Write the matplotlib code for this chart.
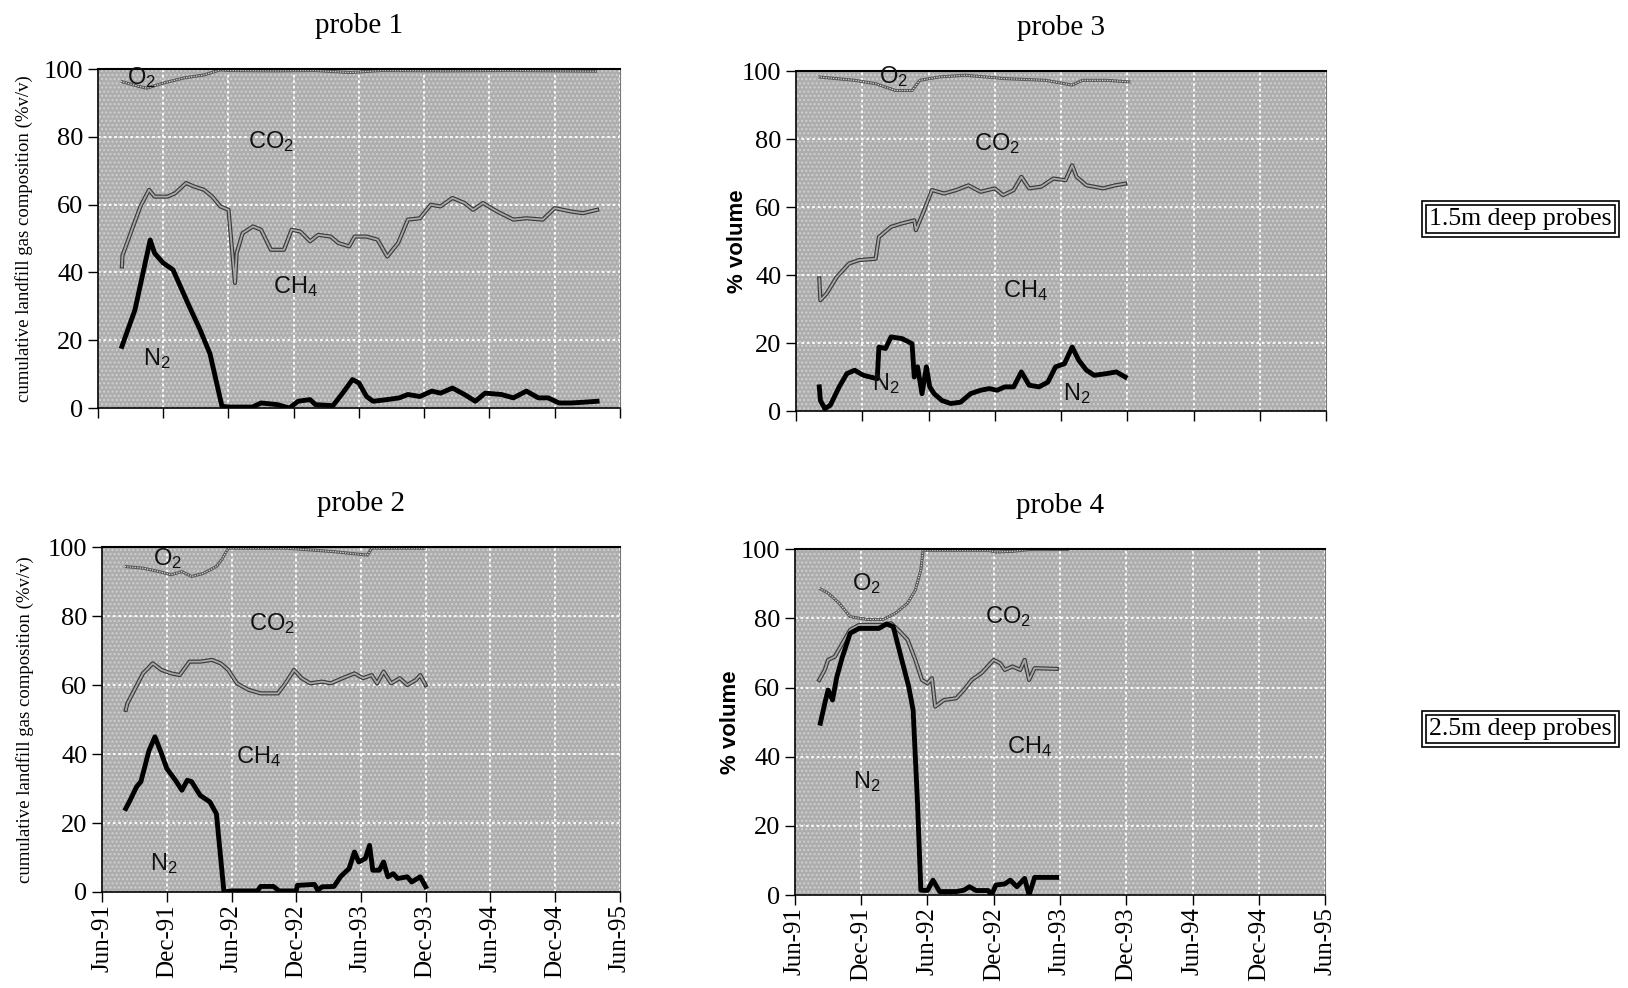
import matplotlib
matplotlib.use('Agg')
import matplotlib.pyplot as plt

plt.rcParams['mathtext.fontset'] = 'custom'
plt.rcParams['mathtext.rm'] = 'Liberation Sans'
plt.rcParams['mathtext.it'] = 'Liberation Sans'

SERIF = 'Liberation Serif'
SANS = 'Liberation Sans'

# x = months after Jun-91
tick_labels = ['Jun-91', 'Dec-91', 'Jun-92', 'Dec-92', 'Jun-93', 'Dec-93', 'Jun-94', 'Dec-94', 'Jun-95']

# ---- probe 1 (1.5m) ----
p1_n2_x = [2.2, 3.4, 4.8, 5.2, 6.0, 6.9, 7.7, 8.25, 9.4, 10.3, 11.4, 12.0, 14.2, 15.0, 16.5, 17.6, 18.4, 19.5, 20.0,
           21.6, 22.5, 23.4, 24.0, 24.7, 25.3, 26.6, 27.7, 28.5, 29.6, 30.7, 31.5, 32.6, 33.7, 34.7, 35.6, 37.1,
           38.2, 39.4, 40.5, 41.4, 42.4, 43.5, 44.6, 45.9]
p1_n2_y = [18.2, 29, 49.6, 45.7, 42.8, 40.8, 35, 31, 23, 16, 0.5, 0.3, 0.3, 1.5, 1, 0, 2, 2.5, 1,
           0.7, 4.4, 8.4, 7.4, 3.4, 2, 2.5, 3, 4, 3.4, 5, 4.4, 5.9, 4, 2, 4.4, 4,
           3, 5, 3, 3, 1.5, 1.5, 1.7, 2]
p1_ch4_x = [2.2, 2.25, 3.0, 3.9, 4.7, 5.2, 6.4, 7.1, 8.1, 8.8, 9.75, 10.5, 11.25, 12.0, 12.6, 12.75, 13.3, 14.25,
            15.0, 15.9, 17.1, 17.8, 18.6, 19.5, 20.25, 21.4, 22.1, 23.1, 23.6, 24.7, 25.7, 26.6, 27.6, 28.5,
            29.6, 30.6, 31.5, 32.6, 33.7, 34.5, 35.4, 36.7, 38.2, 39.4, 40.9, 42.0, 43.5, 44.6, 45.9]
p1_ch4_y = [41.8, 45, 51.6, 59.5, 64.4, 62.4, 62.4, 63.4, 66.4, 65.4, 64.4, 62.4, 59.5, 58.5, 36.9, 45.7, 51.6, 53.6,
            52.6, 46.7, 46.7, 52.6, 52.1, 49.2, 51.1, 50.6, 48.7, 47.7, 50.6, 50.6, 49.7, 44.7, 48.7, 55.6,
            56, 60, 59.5, 62, 60.5, 58.5, 60.5, 58, 55.6, 56, 55.6, 59, 58, 57.5, 58.5]
p1_co2_x = [2.1, 3.75, 4.5, 6.0, 7.9, 9.75, 11.25, 12.0, 16.0, 20.0, 23.2, 26.0, 32.0, 38.0, 45.9]
p1_co2_y = [96.4, 94.9, 94.4, 95.9, 97.4, 98.3, 99.8, 99.6, 99.5, 99.6, 99.0, 99.6, 99.5, 99.6, 99.4]

# ---- probe 3 (1.5m) ----
p3_n2_x = [2.1, 2.2, 2.6, 3.1, 3.9, 4.6, 5.3, 6.1, 7.35, 7.5, 8.1, 8.6, 9.6, 10.5, 10.7, 11.0, 11.4, 11.8, 12.1,
           12.5, 13.2, 14.0, 14.9, 15.8, 16.7, 17.5, 18.2, 18.9, 19.7, 20.4, 21.1, 22.0, 22.8, 23.5, 24.3, 25.0,
           25.6, 26.3, 27.0, 28.1, 29.0, 29.8]
p3_n2_y = [7.1, 3.1, 0.7, 1.7, 7.1, 11, 12, 10.5, 9.5, 18.8, 18.4, 21.8, 21.3, 19.8, 10, 13, 5.1, 13, 7.1,
           5.1, 3.1, 2.2, 2.6, 5.1, 6.1, 6.6, 6.1, 7.1, 7.1, 11.5, 7.6, 7.1, 8.5, 13, 13.9, 18.8,
           14.9, 12, 10.5, 11, 11.5, 10]
p3_ch4_x = [2.1, 2.2, 2.75, 3.7, 4.8, 5.7, 7.2, 7.5, 8.6, 9.6, 10.7, 10.85, 11.6, 12.3, 13.4, 14.5, 15.6, 16.7,
            18.0, 18.75, 19.7, 20.4, 21.1, 22.2, 23.3, 24.4, 25.0, 25.4, 26.3, 27.8, 28.9, 29.8]
p3_ch4_y = [39, 32.6, 34.5, 39.5, 43.4, 44.4, 44.8, 51.2, 54.2, 55.2, 56.1, 53.2, 59.1, 65, 64, 65, 66.4, 64.5,
            65.5, 63.5, 65, 68.9, 65.5, 66, 68.4, 67.9, 72.3, 68.9, 66.4, 65.5, 66.4, 66.9]
p3_co2_x = [2.0, 5.3, 7.2, 9.0, 10.5, 11.2, 13.0, 15.3, 18.9, 22.6, 25.0, 25.9, 28.1, 30.3]
p3_co2_y = [98.3, 97.3, 96.3, 94.3, 94.3, 97.3, 98.3, 98.8, 97.8, 97.3, 95.9, 97.3, 97.3, 96.8]

# ---- probe 2 (2.5m) ----
p2_n2_x = [2.2, 2.6, 3.2, 3.6, 4.35, 4.9, 5.5, 6.0, 6.8, 7.4, 7.9, 8.3, 9.1, 10.0, 10.6, 11.3, 12.0, 14.4, 14.7,
           15.9, 16.4, 18.0, 18.1, 19.7, 20.0, 20.4, 21.5, 22.1, 22.9, 23.4, 23.8, 24.4, 24.8, 25.1, 25.7, 26.1,
           26.5, 27.0, 27.4, 28.3, 28.7, 29.5, 30.0]
p2_n2_y = [24.2, 26.6, 30.5, 32, 41, 45, 40.2, 35.8, 32.4, 29.5, 32.4, 32, 28, 26.1, 22.7, 0, 0.3, 0.3, 1.6,
           1.6, 0.3, 0.3, 1.9, 2.2, 0.5, 1.5, 1.6, 4.4, 6.8, 11.6, 8.7, 9.7, 13.5, 6.3, 6.3, 8.7,
           4.4, 5.3, 3.9, 4.4, 2.9, 4.4, 1.5]
p2_ch4_x = [2.2, 2.35, 3.0, 3.8, 4.7, 5.5, 6.4, 7.2, 8.1, 9.1, 10.2, 11.0, 11.7, 12.5, 13.6, 14.7, 16.3, 17.0,
            17.8, 18.5, 19.3, 20.4, 21.2, 22.3, 23.4, 24.2, 25.0, 25.5, 26.1, 26.8, 27.6, 28.3, 29.1, 29.5, 30.0]
p2_ch4_y = [52.8, 54.7, 58.6, 63.4, 66.3, 64.4, 63.4, 62.9, 66.8, 66.8, 67.3, 66.3, 64.4, 60.5, 58.6, 57.6, 57.6,
            60.5, 64.4, 62, 60.5, 61, 60.5, 62, 63.4, 62, 62.9, 60.5, 63.9, 60.5, 62, 60, 61.5, 62.9, 60]
p2_co2_x = [2.1, 3.8, 5.3, 6.4, 7.4, 8.3, 9.4, 10.6, 11.1, 11.7, 17.0, 19.3, 21.5, 23.0, 24.6, 25.0, 30.0]
p2_co2_y = [94.4, 93.9, 92.9, 92, 92.9, 91.5, 92.4, 94.4, 96.4, 99.7, 99.7, 99.2, 98.7, 98.2, 97.7, 99.7, 99.7]

# ---- probe 4 (2.5m) ----
p4_n2_x = [2.3, 2.7, 3.0, 3.4, 3.8, 4.3, 5.0, 5.8, 7.6, 8.3, 8.9, 9.6, 10.3, 10.7, 11.1, 11.4, 12.0, 12.5, 13.1,
           14.6, 15.3, 15.8, 16.4, 17.5, 17.8, 18.2, 19.0, 19.5, 20.1, 20.8, 21.2, 21.7, 23.7]
p4_n2_y = [49.7, 55.4, 59.3, 56.4, 63.2, 68.9, 75.7, 77.1, 77.1, 78.4, 77.6, 68.9, 60.3, 53.5, 26.5, 1.4, 1.3, 4.3, 1,
           1, 1.4, 2.4, 1.3, 1.3, 0, 2.9, 3.2, 4.3, 2.4, 4.8, 0, 5.1, 5.1]
p4_ch4_x = [2.2, 2.7, 3.0, 3.6, 4.3, 5.0, 5.8, 8.0, 8.7, 9.5, 10.2, 10.9, 11.5, 12.0, 12.4, 12.7, 13.5, 14.6,
            15.3, 16.0, 16.9, 18.0, 18.6, 19.0, 19.7, 20.4, 20.8, 21.2, 21.7, 23.7]
p4_ch4_y = [62.2, 65.1, 68, 68.9, 72.8, 76.7, 78.1, 78.1, 78.6, 76.2, 73.8, 68, 62.2, 61.2, 62.7, 54.5, 56.4, 56.9,
            59.3, 62.2, 64.2, 68, 67, 65.1, 66.1, 65.1, 68, 62.2, 65.6, 65.4]
p4_co2_x = [2.2, 3.0, 4.0, 5.0, 6.5, 8.0, 9.1, 10.2, 10.9, 11.4, 11.6, 17.5, 18.2, 19.7, 21.2, 24.8]
p4_co2_y = [88.7, 87.3, 84.4, 80.5, 79.7, 79.7, 81.5, 84.4, 88.2, 94, 99.7, 99.7, 99.2, 99.4, 99.9, 99.9]

probes = [
    ('probe 1', [0.0602, 0.587, 0.3206, 0.343], p1_n2_x, p1_n2_y, p1_ch4_x, p1_ch4_y, p1_co2_x, p1_co2_y,
     'cumulative landfill gas composition (%v/v)', -0.124,
     [(4.0, 97.5, r'O$_2$'), (15.9, 78.7, r'CO$_2$'), (18.2, 35.9, r'CH$_4$'), (5.4, 14.7, r'N$_2$')], False),
    ('probe 3', [0.489, 0.584, 0.3256, 0.344], p3_n2_x, p3_n2_y, p3_ch4_x, p3_ch4_y, p3_co2_x, p3_co2_y,
     '% volume', -0.091,
     [(8.8, 98.3, r'O$_2$'), (18.2, 78.7, r'CO$_2$'), (20.8, 35.5, r'CH$_4$'), (8.1, 8, r'N$_2$'),
      (25.4, 5.1, r'N$_2$')], False),
    ('probe 2', [0.0627, 0.0972, 0.318, 0.349], p2_n2_x, p2_n2_y, p2_ch4_x, p2_ch4_y, p2_co2_x, p2_co2_y,
     'cumulative landfill gas composition (%v/v)', -0.132,
     [(6.05, 96.8, r'O$_2$'), (15.8, 77.9, r'CO$_2$'), (14.55, 39.2, r'CH$_4$'), (5.7, 8.2, r'N$_2$')], True),
    ('probe 4', [0.4883, 0.0941, 0.3256, 0.350], p4_n2_x, p4_n2_y, p4_ch4_x, p4_ch4_y, p4_co2_x, p4_co2_y,
     '% volume', -0.102,
     [(6.5, 90.2, r'O$_2$'), (19.3, 80.5, r'CO$_2$'), (21.2, 42.9, r'CH$_4$'), (6.5, 32.8, r'N$_2$')], True),
]

fig = plt.figure(figsize=(16.28, 9.88), dpi=100)

for (title, rect, n2x, n2y, chx, chy, cox, coy, ylab, ylx, labels, show_x) in probes:
    ax = fig.add_axes(rect)
    ax.set_facecolor('#adadad')
    ax.patch.set_hatch('....')
    ax.patch.set_edgecolor('#d0d0d0')
    ax.set_xlim(0, 48)
    ax.set_ylim(0, 100)
    ax.set_xticks(range(0, 49, 6))
    ax.set_yticks(range(0, 101, 20))
    ax.grid(True, color='white', linestyle=(0, (1.5, 1.5)), linewidth=1.3)
    ax.set_axisbelow(True)

    # O2 boundary (top of CO2)
    ax.plot(cox, coy, color='#555555', lw=2.2, solid_capstyle='butt')
    ax.plot(cox, coy, color='#d8d8d8', lw=0.9, linestyle=(0, (1, 1)))
    # CO2 / CH4 boundary
    ax.plot(chx, chy, color='#3a3a3a', lw=3.0)
    ax.plot(chx, chy, color='#a8a8a8', lw=1.3)
    # N2 boundary
    ax.plot(n2x, n2y, color='black', lw=3.5)

    for lx, ly, txt in labels:
        ax.text(lx, ly, txt, fontsize=17, family=SANS, ha='center', va='center', color='#111111')

    ax.set_title(title, fontsize=21, family=SERIF, pad=26)
    if ylab.startswith('%'):
        ax.set_ylabel(ylab, fontsize=16, family=SANS, fontweight='bold')
    else:
        ax.set_ylabel(ylab, fontsize=13.5, family=SERIF)
    ax.yaxis.set_label_coords(ylx, 0.5)

    for lab in ax.get_yticklabels():
        lab.set_family(SERIF)
    ax.tick_params(axis='y', direction='out', length=7, width=1, labelsize=19)
    ax.tick_params(axis='x', direction='out', length=7, width=1, pad=2)
    if show_x:
        ax.set_xticklabels(tick_labels, rotation=90, fontsize=18, family=SERIF)
    else:
        ax.set_xticklabels([])

    ax.spines['top'].set_linewidth(1.5)
    ax.spines['right'].set_color('#777777')
    ax.spines['left'].set_linewidth(1.2)
    ax.spines['bottom'].set_linewidth(1.2)

for ytxt, txt in [(0.778, '1.5m deep probes'), (0.262, '2.5m deep probes')]:
    fig.text(0.934, ytxt, txt, fontsize=18.5, family=SERIF, ha='center', va='center',
             bbox=dict(boxstyle='square,pad=0.12', facecolor='white', edgecolor='black', lw=1.2))
    fig.text(0.934, ytxt, txt, fontsize=18.5, family=SERIF, ha='center', va='center', color='none',
             bbox=dict(boxstyle='square,pad=0.27', facecolor='none', edgecolor='black', lw=1.2))

fig.savefig('out.png', dpi=100)
